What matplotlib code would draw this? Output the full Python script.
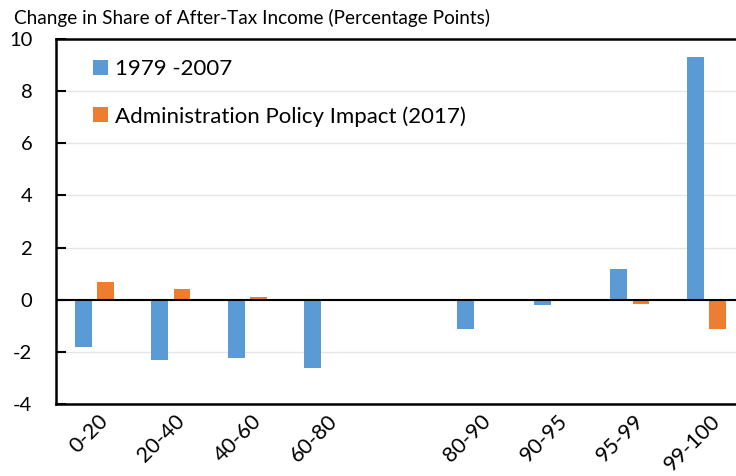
import numpy as np
import matplotlib.pyplot as plt

plt.rcParams['font.family'] = ['Lato', 'DejaVu Sans']

groups = ['0-20', '20-40', '40-60', '60-80', '80-90', '90-95', '95-99', '99-100']
change_1979_2007 = [-1.8, -2.3, -2.22, -2.6, -1.12, -0.2, 1.18, 9.3]
policy_2017 = [0.69, 0.42, 0.1, 0.03, 0.02, 0.0, -0.15, -1.14]
y_ticks = [-4, -2, 0, 2, 4, 6, 8, 10]

# empty slot between 60-80 and 80-90
x = np.array([i if i < 4 else i + 1 for i in range(len(groups))])

fig = plt.figure(figsize=(7.36, 4.76), dpi=100)
ax = fig.add_axes([56/736, 72/476, 688.5/736, 365/476])

w = 0.22
ax.bar(x - 0.142, change_1979_2007, w, color='#5B9BD5', label='1979 -2007', zorder=3)
ax.bar(x + 0.148, policy_2017, w, color='#ED7D31', label='Administration Policy Impact (2017)', zorder=3)

ax.set_xlim(-0.5, 8.5)
ax.set_ylim(-4, 10)
ax.set_yticks(y_ticks)
ax.set_yticklabels([str(t) for t in y_ticks], fontsize=14.5)
ax.yaxis.grid(True, color='#E6E6E6', linewidth=1, zorder=0)
ax.axhline(0, color='black', linewidth=1.5, zorder=4)

ax.set_xticks(x + 0.05)
ax.set_xticklabels(groups, rotation=45, ha='right', rotation_mode='anchor', fontsize=15.5)
ax.tick_params(axis='x', length=0, pad=5)
ax.tick_params(axis='y', direction='in', length=7, width=1.5, pad=17)

for s in ['left', 'top', 'bottom']:
    ax.spines[s].set_linewidth(1.8)
ax.spines['right'].set_visible(False)

ax.legend(loc='upper left', bbox_to_anchor=(0.025, 0.999), frameon=False, fontsize=16,
          handlelength=0.66, handleheight=0.66, handletextpad=0.3, labelspacing=1.2)

fig.text(14/736, 1 - 18/476, 'Change in Share of After-Tax Income (Percentage Points)',
         fontsize=13.7, va='center', ha='left')

plt.savefig('out.png', dpi=100)
